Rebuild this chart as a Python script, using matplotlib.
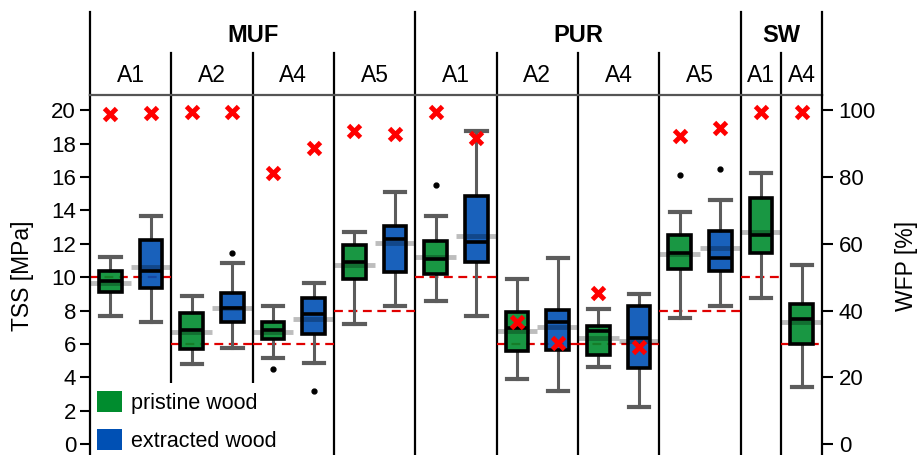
import numpy as np
import matplotlib
matplotlib.use("Agg")
import matplotlib.pyplot as plt
from matplotlib.patches import Patch
import matplotlib.transforms as mtransforms

plt.rcParams['font.family'] = ['Liberation Sans', 'DejaVu Sans']

# ---------------- data ----------------
groups = ['MUF', 'PUR', 'SW']
group_bounds = [0, 8, 16, 18]
subgroups = ['A1', 'A2', 'A4', 'A5', 'A1', 'A2', 'A4', 'A5', 'A1', 'A4']
sub_bounds = [0, 2, 4, 6, 8, 10, 12, 14, 16, 17, 18]
sub_ref_tss = [10, 6, 6, 8, 10, 6, 6, 8, 10, 6]

# box order: MUF A1 p/e, A2 p/e, A4 p/e, A5 p/e, PUR A1 p/e, A2 p/e, A4 p/e, A5 p/e, SW A1 p, SW A4 p
wood = ['p', 'e', 'p', 'e', 'p', 'e', 'p', 'e', 'p', 'e', 'p', 'e', 'p', 'e', 'p', 'e', 'p', 'p']
whishi = [11.22, 13.66, 8.89, 10.87, 8.29, 9.63, 12.69, 15.12, 13.67, 18.76, 9.87, 11.13, 8.07, 8.99, 13.9, 14.62, 16.22, 10.73]
q3 = [10.37, 12.23, 7.83, 9.03, 7.33, 8.77, 11.93, 13.07, 12.18, 14.86, 7.89, 8.03, 7.07, 8.27, 12.53, 12.77, 14.72, 8.37]
med = [9.75, 10.35, 6.85, 8.17, 6.85, 7.79, 10.93, 12.27, 11.07, 12.12, 6.93, 7.33, 6.75, 6.33, 11.43, 11.13, 12.53, 7.49]
q1 = [9.13, 9.33, 5.67, 7.29, 6.29, 6.57, 9.87, 10.29, 10.17, 10.89, 5.59, 5.63, 5.33, 4.57, 10.47, 10.37, 11.47, 5.99]
whislo = [7.67, 7.31, 4.79, 5.74, 5.14, 4.87, 7.19, 8.29, 8.57, 7.67, 3.9, 3.18, 4.63, 2.2, 7.57, 8.29, 8.77, 3.43]
means = [9.65, 10.6, 6.7, 8.15, 6.69, 7.47, 10.73, 12.03, 11.23, 12.47, 6.77, 7.03, 6.33, 6.19, 11.37, 11.73, 12.72, 7.29]
fliers = [[], [], [], [11.43], [4.51], [3.16], [], [], [15.52], [], [], [], [], [], [16.12], [16.46], [], []]
wfp = [98.9, 99.3, 99.4, 99.4, 81.1, 88.8, 93.8, 92.9, 99.4, 91.6, 36.6, 30.2, 45.2, 29.2, 92.3, 94.6, 99.4, 99.4]

legend_labels = ['pristine wood', 'extracted wood']

# ---------------- style ----------------
GREEN = '#008C2E'
BLUE = '#0050B4'
colors = {'p': GREEN, 'e': BLUE}

W, H = 919, 455
fig = plt.figure(figsize=(W / 100, H / 100), dpi=100)
ax_left, ax_right, ax_top_px = 90, 822, 95
ax = fig.add_axes([ax_left / W, 0, (ax_right - ax_left) / W, (H - ax_top_px) / H])

px_per_unit = (444 - 110.3) / 20.0
ytop = (444 - ax_top_px) / px_per_unit
ybot = (444 - H) / px_per_unit
n = len(med)
ax.set_xlim(0, n)
ax.set_ylim(ybot, ytop)

pos = np.arange(n) + 0.5
stats = []
for i in range(n):
    stats.append(dict(med=med[i], q1=q1[i], q3=q3[i], whislo=whislo[i], whishi=whishi[i],
                      fliers=np.array(fliers[i]), mean=means[i]))

bp = ax.bxp(stats, positions=pos, widths=0.55, capwidths=0.5, patch_artist=True,
            showfliers=True, showmeans=False,
            boxprops=dict(linewidth=2.6, edgecolor='black', zorder=3),
            whiskerprops=dict(color='#5c5c5c', linewidth=2.2, zorder=2.5),
            capprops=dict(color='#5c5c5c', linewidth=3.0, zorder=2.5),
            medianprops=dict(color='black', linewidth=2.6, zorder=3.5),
            flierprops=dict(marker='o', markerfacecolor='black', markeredgecolor='black',
                            markersize=3.5, zorder=3))
for patch, w in zip(bp['boxes'], wood):
    c = matplotlib.colors.to_rgba(colors[w], 0.9)
    patch.set_facecolor(c)

# mean lines (semi-transparent gray)
ax.hlines(means, pos - 0.5, pos + 0.5, colors='black', alpha=0.26, linewidth=3.5, zorder=4)

# reference dashed lines
for k in range(len(subgroups)):
    ax.hlines(sub_ref_tss[k], sub_bounds[k], sub_bounds[k + 1], colors='#e00000',
              linestyles=(0, (4, 2.5)), linewidth=1.6, zorder=2)

# dividers inside plot
short_top = (444 - 383) / px_per_unit
for b in sub_bounds[1:-1]:
    ymin = short_top if b in (2, 4) else ybot
    ax.vlines(b, ymin, ytop, colors='black', linewidth=1.6, zorder=1.5)

# header
trans = mtransforms.blended_transform_factory(ax.transData, ax.transAxes)
ax_h = H - ax_top_px
y_group_top = (H - 12) / ax_h
y_sub_top = (H - 53) / ax_h
for b in group_bounds:
    ax.plot([b, b], [1.0, y_group_top], color='black', lw=1.6, transform=trans, clip_on=False)
for b in sub_bounds:
    if b not in group_bounds:
        ax.plot([b, b], [1.0, y_sub_top], color='black', lw=1.6, transform=trans, clip_on=False)
for g in range(len(groups)):
    xc = (group_bounds[g] + group_bounds[g + 1]) / 2
    ax.text(xc, (H - 35) / ax_h, groups[g], transform=trans, ha='center', va='center',
            fontsize=17, fontweight='bold')
for k in range(len(subgroups)):
    xc = (sub_bounds[k] + sub_bounds[k + 1]) / 2
    ax.text(xc, (H - 75) / ax_h, subgroups[k], transform=trans, ha='center', va='center',
            fontsize=16.5)

# axes styling
ax.set_xticks([])
ax.set_yticks(np.arange(0, 21, 2))
ax.tick_params(axis='y', length=7, width=1.5, labelsize=16, pad=3)
ax.spines['bottom'].set_visible(False)
ax.spines['right'].set_visible(False)
ax.spines['left'].set_linewidth(1.6)
ax.spines['top'].set_color('#555555')
ax.spines['top'].set_linewidth(1.6)

ax2 = ax.twinx()
ax2.set_ylim(ybot * 5, ytop * 5)
ax2.set_yticks(np.arange(0, 101, 20))
ax2.tick_params(axis='y', length=8, width=1.5, labelsize=16, pad=4)
for s in ['left', 'top', 'bottom']:
    ax2.spines[s].set_visible(False)
ax2.spines['right'].set_linewidth(1.6)
ax2.plot(pos, wfp, linestyle='none', marker='x', color='#ff0000', markersize=8,
         markeredgewidth=3.5, zorder=6)

fig.text(22 / W, 1 - 276 / H, 'TSS [MPa]', rotation=90, ha='center', va='center', fontsize=16.5)
fig.text(907 / W, 1 - 266 / H, 'WFP [%]', rotation=90, ha='center', va='center', fontsize=16.5)

handles = [Patch(facecolor=GREEN, edgecolor='none'), Patch(facecolor=BLUE, edgecolor='none')]
leg = ax.legend(handles, legend_labels, loc='lower left',
                bbox_to_anchor=(97 / W, 3 / H), bbox_transform=fig.transFigure,
                frameon=False, fontsize=15.5, handlelength=1.15, handleheight=1.15,
                handletextpad=0.45, labelspacing=0.7, borderpad=0.0, borderaxespad=0)
leg.set_zorder(10)

fig.savefig('out.png', dpi=100)
